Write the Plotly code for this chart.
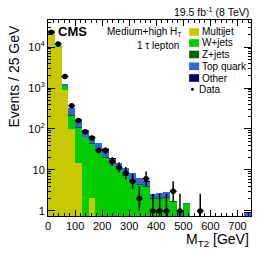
import math
import plotly.graph_objects as go

# ---- data (25 GeV bins, 0-750 GeV) ----
bin_lo = [25 * k for k in range(30)]
multijet = [25500, 10000, 890, 100, 15, 0, 2.1, 0, 0, 0, 0, 0, 0, 0, 0,
            0, 0, 0, 0, 0, 0, 0, 0, 0, 0, 0, 0, 0, 0, 0]
wjets = [250, 600, 200, 113, 90, 62, 41, 29, 20, 13, 9.8, 7.3, 5.5, 4.3, 3.85,
         2.0, 2.0, 2.05, 1.65, 0, 1.45, 0, 0, 0, 0, 0, 0, 0, 0, 0]
zjets = [30, 40, 15, 7, 5, 3, 2, 1, 1, 0.5, 0.4, 0.3, 0.2, 0.2, 0.15,
         0.1, 0.1, 0.1, 0.05, 0, 0.05, 0, 0, 0, 0, 0, 0, 0, 0, 0]
topquark = [900, 220, 140, 104, 62, 28, 22, 16, 14, 5.5, 4.6, 3.4, 2.7, 1.7, 1.2,
            0.45, 0.6, 0.7, 0.05, 0.95, 0.05, 0, 0, 0, 0, 0, 0, 0, 0, 0.9]
other = [60, 20, 5, 2, 1, 0.5, 0.3, 0.2, 0.1, 0.1, 0.05, 0.05, 0.03, 0.02, 0.02,
         0.01, 0.01, 0.01, 0, 0, 0, 0, 0, 0, 0, 0, 0, 0, 0, 0.05]
data = [23000, 11800, 1900, 370, 160, 85, 60, 30, 30, 16, 11.5, 8.3, 5.2, 2, 6.1,
        1, 1, 1, 3, 1, 0, 0, 1, 0, 0, 0, 0, 0, 0, 0]

series_names = ["Multijet", "W+jets", "Z+jets", "Top quark", "Other"]
series_vals = [multijet, wjets, zjets, topquark, other]
series_cols = ["#c8c800", "#00cc00", "#006600", "#3366dd", "#000066"]

ytick_vals = [1, 10, 100, 1000, 10000]
ytick_text = ["1", "10", "10<sup>2</sup>", "10<sup>3</sup>", "10<sup>4</sup>"]

BW = 25
centers = [b + BW / 2 for b in bin_lo]

# layout geometry (pixels)
W, H = 266, 255
L, R, T, B = 48, 251.5, 20, 216
FONT = "Liberation Sans, Arial, Helvetica, sans-serif"


def px(x):
    return (x - L) / (R - L)


def py(y):
    return (B - y) / (B - T)


fig = go.Figure()
for name, vals, col in zip(series_names, series_vals, series_cols):
    fig.add_trace(go.Bar(x=centers, y=vals, width=BW, name=name,
                         marker=dict(color=col, line=dict(width=0)),
                         showlegend=False, hoverinfo="skip"))

# data with Poisson-like asymmetric errors
dx, dy, eu, ed = [], [], [], []
for c, n in zip(centers, data):
    if n <= 0:
        continue
    dx.append(c)
    dy.append(n)
    s = math.sqrt(n + 0.25)
    eu.append(s + 0.5)
    ed.append(min(n - 1e-3, s - 0.5))
fig.add_trace(go.Scatter(
    x=dx, y=dy, mode="markers", name="Data",
    marker=dict(color="black", size=5.5),
    error_y=dict(type="data", symmetric=False, array=eu, arrayminus=ed,
                 color="black", thickness=1.5, width=0),
    error_x=dict(type="constant", value=BW / 2, color="black",
                 thickness=1.5, width=0),
    showlegend=False, hoverinfo="skip"))

fig.update_layout(
    template="none",
    width=W, height=H,
    margin=dict(l=L, r=W - R, t=T, b=H - B, pad=0, autoexpand=False),
    barmode="stack", bargap=0,
    paper_bgcolor="white", plot_bgcolor="white",
    font=dict(family=FONT, size=11, color="black"),
    showlegend=False,
)
fig.update_xaxes(
    automargin=False,
    range=[0, 750], tickmode="array", tickvals=[0, 100, 200, 300, 400, 500, 600, 700],
    ticks="inside", ticklen=6, tickcolor="black", tickwidth=1,
    minor=dict(ticks="inside", ticklen=3, dtick=20, tickcolor="black", showgrid=False),
    showline=True, linecolor="black", linewidth=1, mirror="allticks",
    showgrid=False, zeroline=False, tickfont=dict(size=11),
)
fig.update_yaxes(
    automargin=False,
    type="log", range=[math.log10(0.75), 4.66],
    tickmode="array", tickvals=ytick_vals, ticktext=ytick_text,
    ticks="inside", ticklen=7, tickcolor="black", tickwidth=1,
    minor=dict(ticks="inside", ticklen=3, tickcolor="black", tickmode="array",
               showgrid=False,
               tickvals=[m * 10 ** e for e in range(0, 5) for m in range(2, 10)]),
    showline=True, linecolor="black", linewidth=1, mirror="allticks",
    showgrid=False, zeroline=False, tickfont=dict(size=11),
)

ann = []
ann.append(dict(text="Events / 25 GeV", textangle=-90, x=px(13), y=py(23),
                xanchor="center", yanchor="top", font=dict(size=14)))
ann.append(dict(text="M<sub>T2</sub> [GeV]", x=px(252), y=py(239.5),
                xanchor="right", yanchor="middle", font=dict(size=14)))
ann.append(dict(text="19.5 fb<sup>-1</sup> (8 TeV)", x=px(252), y=py(12),
                xanchor="right", yanchor="middle", font=dict(size=10.5)))
ann.append(dict(text="<b>CMS</b>", x=px(56), y=py(32),
                xanchor="left", yanchor="middle", font=dict(size=13)))
ann.append(dict(text="Medium+high H<sub>T</sub>", x=px(184), y=py(32),
                xanchor="right", yanchor="middle", font=dict(size=10)))
ann.append(dict(text="1 τ lepton", x=px(181), y=py(45),
                xanchor="right", yanchor="middle", font=dict(size=10)))

shapes = []
leg_y = [32, 43, 54.5, 66.3, 78]
for name, col, yc in zip(series_names, series_cols, leg_y):
    shapes.append(dict(type="rect", xref="paper", yref="paper",
                       x0=px(189.5), x1=px(199.5), y0=py(yc + 3.8), y1=py(yc - 3.8),
                       fillcolor=col, line=dict(width=0)))
    ann.append(dict(text=name, x=px(200.5), y=py(yc), xanchor="left",
                    yanchor="middle", font=dict(size=10)))
shapes.append(dict(type="circle", xref="paper", yref="paper",
                   x0=px(191.3), x1=px(194.3), y0=py(90.8), y1=py(87.8),
                   fillcolor="black", line=dict(width=0)))
ann.append(dict(text="Data", x=px(197), y=py(89.5), xanchor="left",
                yanchor="middle", font=dict(size=10)))

for a in ann:
    a.setdefault("xref", "paper")
    a.setdefault("yref", "paper")
    a["showarrow"] = False
fig.update_layout(annotations=ann, shapes=shapes)

fig.write_html("out.html",
               config={"displayModeBar": False, "staticPlot": True},
               post_script="document.body.style.margin='0px';"
                           "document.body.style.overflow='hidden';")
